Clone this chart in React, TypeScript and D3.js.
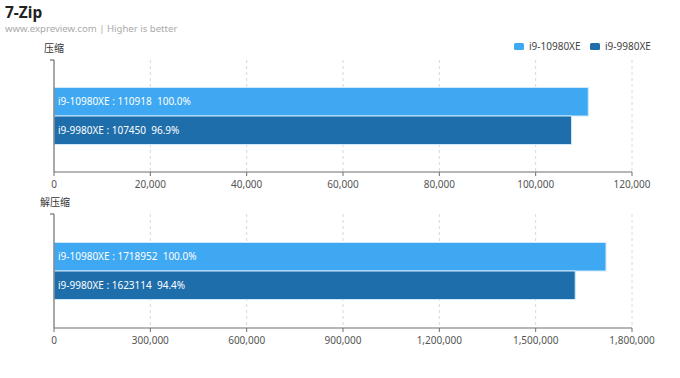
import React from "react";
import * as d3 from "d3";

const seriesNames = ["i9-10980XE", "i9-9980XE"];
const seriesColors = ["#3ea8f2", "#1f6eac"];
const panelTitles = ["压缩", "解压缩"];
const compressValues = [110918, 107450];
const compressPct = ["100.0%", "96.9%"];
const decompressValues = [1718952, 1623114];
const decompressPct = ["100.0%", "94.4%"];
const compressTicks = [0, 20000, 40000, 60000, 80000, 100000, 120000];
const decompressTicks = [0, 300000, 600000, 900000, 1200000, 1500000, 1800000];

const W = 680;
const H = 378;
const FONT = "'Noto Sans', 'Noto Sans CJK SC', sans-serif";

type PanelProps = {
  title: string;
  values: number[];
  pcts: string[];
  ticks: number[];
  top: number;
  bottom: number;
};

function Panel({ title, values, pcts, ticks, top, bottom }: PanelProps) {
  const x = d3.scaleLinear().domain([0, ticks[ticks.length - 1]]).range([54, 632]);
  const center = (top + bottom) / 2;
  const band = d3
    .scaleBand<string>()
    .domain(seriesNames)
    .range([center - 28.5, center + 28.5])
    .padding(0);
  const fmt = d3.format(",");
  return (
    <g>
      <text x={title.length > 2 ? 40 : 44} y={top - 8} fontSize={10} fill="#333" fontFamily={FONT}>
        {title}
      </text>
      {ticks.slice(1).map((t) => (
        <line key={t} x1={x(t)} x2={x(t)} y1={top} y2={bottom} stroke="#d8d8d8" strokeDasharray="3,3" />
      ))}
      {values.map((v, i) => (
        <g key={i}>
          <rect
            x={x(0)}
            y={band(seriesNames[i])!}
            width={x(v) - x(0)}
            height={band.bandwidth()}
            fill={seriesColors[i]}
            stroke="#cfe8fb"
            strokeWidth={1}
          />
          <text
            x={x(0) + 4}
            y={band(seriesNames[i])! + band.bandwidth() / 2}
            dy="0.35em"
            fill="#fff"
            fontSize={10}
            fontFamily={FONT}
            style={{ whiteSpace: "pre" }}
          >
            {`${seriesNames[i]} : ${v}  ${pcts[i]}`}
          </text>
        </g>
      ))}
      <line x1={x(0)} x2={x(0)} y1={top} y2={bottom} stroke="#6e6e6e" strokeWidth={1.2} />
      <line x1={x(0) - 4} x2={x(0)} y1={top} y2={top} stroke="#6e6e6e" strokeWidth={1.2} />
      <line x1={x(0)} x2={x(ticks[ticks.length - 1])} y1={bottom} y2={bottom} stroke="#6e6e6e" strokeWidth={1.2} />
      {ticks.map((t) => (
        <g key={t}>
          <line x1={x(t)} x2={x(t)} y1={bottom} y2={bottom + 4} stroke="#6e6e6e" />
          <text x={x(t)} y={bottom + 12} dy="0.35em" textAnchor="middle" fontSize={10} fill="#555" fontFamily={FONT}>
            {fmt(t)}
          </text>
        </g>
      ))}
    </g>
  );
}

export default function App() {
  return (
    <svg width={W} height={H} style={{ position: "absolute", left: 0, top: 0, background: "#fff" }}>
      <rect width={W} height={H} fill="#fff" />
      <text x={5} y={18} fontSize={15.5} fontWeight="bold" fill="#222" fontFamily={FONT}>
        7-Zip
      </text>
      <text x={5} y={32} fontSize={9.6} fill="#aaa" fontFamily={FONT}>
        www.expreview.com | Higher is better
      </text>
      {seriesNames.map((n, i) => {
        const lx = [514, 590][i];
        return (
          <g key={n}>
            <rect x={lx} y={43} width={10} height={7} rx={1.5} fill={seriesColors[i]} />
            <text x={lx + 15} y={46.5} dy="0.35em" fontSize={10} fill="#444" fontFamily={FONT}>
              {n}
            </text>
          </g>
        );
      })}
      <Panel title={panelTitles[0]} values={compressValues} pcts={compressPct} ticks={compressTicks} top={60} bottom={172} />
      <Panel title={panelTitles[1]} values={decompressValues} pcts={decompressPct} ticks={decompressTicks} top={214} bottom={328} />
    </svg>
  );
}
